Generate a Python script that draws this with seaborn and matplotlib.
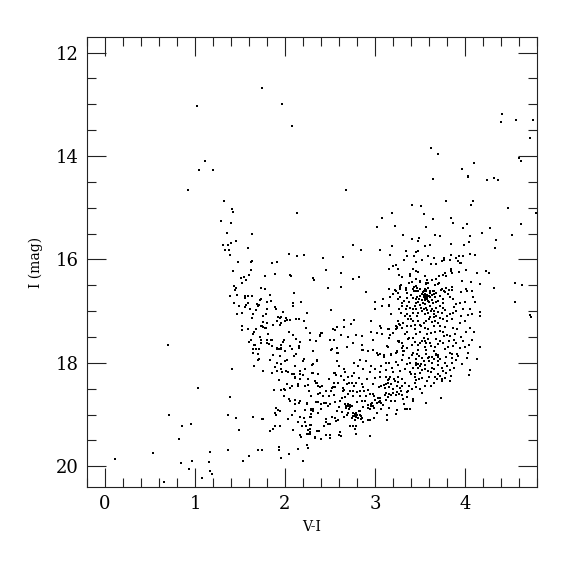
import pandas as pd
import matplotlib
matplotlib.use("Agg")
import matplotlib.pyplot as plt
import seaborn as sns
from matplotlib.ticker import MultipleLocator

# stars as (V-I, I), grouped by region of the diagram
upper_stars = [
    (1.74,12.69),(1.97,13.00),(2.08,13.42),(1.02,13.04),(1.11,14.09),(1.045,14.28),(1.197,14.27),(0.92,14.66),
    (1.327,14.87),(1.415,15.03),(1.419,15.09),(2.134,15.10),(1.286,15.25),(1.40,15.30),(1.352,15.49),(1.634,15.51),
    (1.452,15.65),(1.396,15.68),(1.315,15.72),(1.367,15.73),(1.59,15.77),(1.33,15.81),(1.378,15.81),(1.393,15.91),
    (2.04,15.90),(2.13,15.93),(2.21,15.92),(4.416,13.18),(4.396,13.35),(4.563,13.31),(4.756,13.31),(4.72,13.66),
    (3.62,13.85),(3.70,13.96),(4.60,14.04),(4.62,14.10),(4.10,14.13),(3.97,14.26),(4.03,14.39),(4.035,14.40),
    (3.64,14.45),(4.24,14.47),(4.32,14.43),(4.37,14.47),(2.68,14.65),(3.79,14.88),(4.09,14.88),(4.07,14.95),
    (3.41,14.95),(3.51,14.96),(4.48,15.01),(4.79,15.11),(3.19,15.10),(3.54,15.13),(3.08,15.19),(3.64,15.21),
    (3.84,15.19),(3.87,15.29),(4.02,15.31),(4.62,15.31),(3.02,15.37),(3.22,15.36),(3.57,15.37),(3.98,15.40),
    (4.28,15.39),(4.19,15.49),(4.52,15.53),(3.31,15.52),(3.67,15.53),(3.72,15.55),(4.05,15.54),(3.41,15.60),
    (3.49,15.59),(3.48,15.64),(4.35,15.62),(3.84,15.70),(4.04,15.67),(2.75,15.73),(3.19,15.74),(3.55,15.74),
    (3.61,15.73),(3.99,15.73),(4.33,15.77),(2.84,15.82),(3.05,15.82),(3.34,15.83),(3.48,15.83),(3.46,15.86),
    (3.17,15.91),(3.35,15.93),(3.43,15.93),(3.59,15.94),(3.66,15.98),(3.77,15.97),(3.84,15.91),(3.93,15.94),
    (3.98,15.93),(4.06,15.89),(4.11,15.91),(2.64,15.96),(2.42,15.97),
]
upper_red = [
    (3.32,16.02),(3.45,16.05),(3.52,16.02),(3.74,16.04),(3.77,16.02),(3.83,16.01),(3.90,15.98),(3.92,16.04),
    (3.94,16.07),(3.96,16.07),(3.62,16.08),(3.68,16.09),(3.23,16.10),(3.20,16.13),(3.15,16.18),(3.25,16.19),
    (2.46,16.21),(3.42,16.19),(3.45,16.23),(3.48,16.24),(3.84,16.19),(3.84,16.23),(3.86,16.27),(3.93,16.24),
    (4.01,16.20),(4.23,16.23),(4.27,16.27),(4.13,16.27),(2.62,16.27),(3.39,16.28),(3.39,16.32),(3.27,16.31),
    (3.30,16.34),(3.55,16.33),(3.75,16.31),(3.78,16.27),(3.79,16.32),(3.71,16.33),(2.82,16.34),(2.76,16.38),
    (2.31,16.36),(2.32,16.39),(3.46,16.37),(3.58,16.39),(3.63,16.39),(3.68,16.38),(3.41,16.43),(3.38,16.46),
    (3.50,16.43),(3.57,16.46),(3.59,16.45),(3.67,16.49),(3.71,16.46),(3.97,16.41),(4.07,16.44),(4.17,16.48),
    (4.56,16.46),(4.63,16.49),(2.48,16.56),(2.62,16.53),(3.28,16.52),(3.28,16.56),(3.34,16.56),(3.43,16.53),
    (3.47,16.56),(3.85,16.53),(3.79,16.55),(4.32,16.56),(3.15,16.58),(3.22,16.60),(3.34,16.60),(3.43,16.61),
    (3.57,16.60),(3.54,16.61),(3.61,16.62),(3.64,16.62),(3.66,16.61),(3.73,16.60),(3.77,16.61),(3.82,16.59),
    (3.85,16.59),(3.95,16.63),(4.02,16.61),(4.01,16.57),(4.08,16.61),(2.90,16.63),(4.56,16.83),(4.72,17.07),(4.73,17.12),
]
blue_branch = [
    (1.478,16.05),(1.62,16.05),(1.637,16.03),(1.86,16.06),(1.915,16.05),(1.62,16.20),(1.42,16.23),(1.89,16.29),
    (2.06,16.30),(2.07,16.32),(1.60,16.31),(1.548,16.34),(1.508,16.35),(1.78,16.33),(1.57,16.40),(1.52,16.46),
    (1.43,16.52),(1.46,16.56),(1.445,16.60),(1.73,16.56),(1.78,16.58),(2.10,16.65),(1.47,16.68),(1.385,16.70),
    (1.56,16.70),(1.588,16.70),(1.63,16.70),(1.83,16.69),(1.73,16.76),(1.72,16.78),(1.55,16.75),(1.437,16.84),
    (1.59,16.84),(1.80,16.82),(1.84,16.80),(2.086,16.85),(2.18,16.83),(2.09,16.91),(1.57,16.88),(1.56,16.92),
    (1.485,16.90),(1.69,16.86),(1.715,16.89),(1.70,16.90),(1.615,16.95),(1.89,16.92),(1.90,16.96),(1.805,16.95),
    (1.68,16.98),(1.98,17.01),(1.52,17.04),(1.467,17.06),(1.645,17.05),(1.637,17.13),(2.245,17.04),(1.75,17.10),
    (1.79,17.06),(1.955,17.11),(1.92,17.12),(1.94,17.14),(2.01,17.13),(2.025,17.18),(2.12,17.15),(2.16,17.15),
    (2.215,17.19),(2.05,17.17),(2.00,17.20),(1.91,17.19),(1.95,17.22),(1.94,17.26),(1.87,17.26),(1.755,17.21),
    (1.795,17.23),(1.527,17.28),(1.527,17.36),(1.59,17.34),(1.675,17.35),(1.73,17.29),(1.745,17.29),(1.76,17.31),
    (1.78,17.33),(1.79,17.33),(2.23,17.33),(1.65,17.41),(1.645,17.44),(2.04,17.40),(2.28,17.42),(2.41,17.43),
    (2.09,17.47),(2.39,17.49),(2.12,17.53),(1.72,17.50),(1.81,17.45),(1.627,17.56),(1.605,17.60),(1.73,17.55),
    (1.797,17.55),(1.845,17.55),(1.855,17.55),(1.985,17.55),(1.975,17.59),(2.275,17.55),(2.34,17.57),(2.17,17.59),
    (1.735,17.62),(1.795,17.62),(1.825,17.64),(1.96,17.65),(2.15,17.68),(2.05,17.68),(1.663,17.66),(1.85,17.67),
    (1.91,17.72),(1.95,17.71),
]
faint_blue = [
    (0.696,17.66),(1.415,18.11),(1.03,18.49),(1.393,18.66),(0.71,19.00),(1.367,19.00),(1.452,19.06),(1.645,19.05),
    (1.745,19.09),(1.76,19.08),(0.96,19.18),(0.85,19.22),(1.485,19.29),(0.826,19.47),(1.367,19.68),(1.70,19.68),
    (1.745,19.68),(1.167,19.72),(0.535,19.75),(0.115,19.85),(1.605,19.81),(1.537,19.90),(1.152,19.91),(0.963,19.90),
    (0.84,19.93),(0.93,20.05),(1.17,20.09),(1.185,20.14),(1.075,20.23),(0.655,20.31),(1.93,19.62),(1.93,19.69),
    (1.95,19.84),(2.04,19.77),(2.145,19.66),(2.20,19.90),(2.245,19.59),(2.26,19.64),(2.167,19.39),(2.18,19.44),
    (1.83,19.32),(1.87,19.28),(1.885,19.22),(1.94,19.23),(2.085,19.29),(2.03,19.09),(2.08,19.01),(2.145,19.15),
    (2.167,19.05),(2.21,19.07),(2.185,19.23),(2.23,19.23),(2.225,19.15),(2.255,19.29),(2.255,19.38),(1.885,18.96),
    (1.90,18.88),(1.92,18.91),(1.945,18.93),(1.90,19.01),(2.115,18.94),(2.225,18.92),(1.985,18.64),(2.04,18.69),
    (2.06,18.74),(2.11,18.71),(2.11,18.80),(2.17,18.73),(2.155,18.78),(2.245,18.78),(1.875,18.52),(1.95,18.53),
    (1.985,18.51),(2.00,18.53),(2.02,18.41),(2.055,18.48),(2.08,18.45),(2.145,18.41),(2.145,18.45),(2.22,18.45),
    (2.27,18.54),(2.25,18.42),(1.93,18.34),(2.11,18.30),(2.17,18.31),(2.26,18.32),(1.65,18.06),(1.75,18.15),
    (1.86,18.20),(1.91,18.16),(1.955,18.11),(1.965,18.18),(2.01,18.16),(2.03,18.17),(2.08,18.22),(2.10,18.21),
    (2.115,18.28),(2.165,18.15),(2.17,18.22),(2.195,18.24),(2.225,18.11),(1.83,17.94),(1.87,17.85),(1.885,18.08),
    (1.915,18.01),(1.945,17.87),(1.96,18.02),(2.00,17.97),(2.02,17.94),(2.00,17.78),(2.055,17.68),(2.08,17.74),
    (2.105,17.86),(2.125,17.83),(2.155,17.72),(2.205,17.96),(2.21,17.93),(2.11,18.07),(1.91,17.73),(1.93,17.73),
    (1.96,17.74),(1.645,17.74),(1.645,17.81),(1.68,17.73),(1.70,17.83),(1.715,17.74),(1.66,17.66),(1.715,17.92),
    (1.70,17.94),
]
middle_stars = [
    (2.274,17.55),(2.34,17.58),(2.35,17.95),(2.31,18.03),(2.37,18.22),(2.30,18.20),(2.33,18.35),(2.255,18.43),
    (2.35,18.39),(2.27,18.54),(2.37,18.60),(2.29,18.65),(2.24,18.79),(2.37,18.75),(2.29,18.89),(2.31,18.90),
    (2.225,18.92),(2.285,18.99),(2.285,19.05),(2.225,19.15),(2.28,19.20),(2.23,19.23),(2.37,19.32),(2.275,19.37),
    (2.245,19.38),(2.275,19.28),(2.33,19.45),(2.245,19.59),(2.26,19.65),(2.31,17.77),(2.35,17.96),(2.30,18.04),
    (2.31,18.20),(2.34,18.39),(2.37,18.44),(2.41,18.45),(2.385,18.47),(2.39,18.59),(2.34,18.76),(2.395,18.79),
    (2.43,18.78),(2.45,18.78),(2.50,18.80),(2.48,18.84),(2.29,18.91),(2.31,18.93),(2.37,18.96),(2.405,18.89),
    (2.28,19.04),(2.45,19.09),(2.455,19.14),(2.525,19.05),(2.55,19.07),(2.59,19.10),(2.57,19.12),(2.43,19.22),
    (2.48,19.18),(2.50,19.18),(2.29,19.20),(2.35,19.31),(2.375,19.32),(2.28,19.34),(2.33,19.44),(2.45,19.40),
    (2.50,19.39),(2.405,19.48),(2.50,19.46),(2.61,19.34),(2.62,19.42),(2.60,19.40),(2.72,19.22),(2.75,19.22),
    (2.79,19.22),(2.775,19.28),(2.79,19.38),(2.94,19.41),(2.515,17.75),(2.58,17.80),(2.59,17.81),(2.58,17.96),
    (2.60,18.07),(2.54,18.19),(2.56,18.19),(2.57,18.24),(2.65,18.12),(2.67,18.17),(2.70,18.28),(2.49,18.32),
    (2.54,18.39),(2.59,18.38),(2.52,18.49),(2.535,18.47),(2.51,18.54),(2.56,18.47),(2.49,18.65),(2.54,18.63),
    (2.645,18.48),(2.645,18.55),(2.66,18.53),(2.635,18.68),(2.61,18.73),(2.665,18.66),(2.71,18.39),(2.74,18.38),
    (2.69,18.41),(2.72,18.54),(2.755,18.54),(2.765,18.44),(2.79,18.38),(2.80,18.57),(2.83,18.54),(2.875,18.54),
    (2.87,18.47),(2.67,18.79),(2.70,18.79),(2.72,18.81),(2.675,18.84),(2.705,18.84),(2.71,18.89),(2.58,18.93),
    (2.70,18.96),(2.69,19.01),(2.65,19.05),(2.745,19.07),(2.79,18.96),(2.82,18.94),(2.83,18.94),(2.775,19.02),
    (2.79,19.05),(2.78,19.10),(2.845,19.02),(2.845,19.09),(2.865,19.14),(2.92,19.10),(2.94,19.10),(2.985,19.07),
    (3.13,19.10),(2.805,18.75),(2.855,18.73),(2.885,18.73),(2.865,18.86),(2.92,18.81),(2.92,18.88),(2.95,18.79),
    (2.975,18.84),(2.99,18.88),(2.94,18.89),(3.02,18.97),(3.07,18.89),(3.16,18.88),(3.135,19.01),(3.23,18.98),
    (3.24,18.91),(3.33,18.90),(3.35,18.90),(3.385,18.90),(3.32,18.79),(3.42,18.70),(3.57,18.78),(3.73,18.67),
]
lower_red = [
    (2.94,18.60),(2.975,18.60),(2.99,18.65),(3.03,18.68),(3.05,18.73),(3.045,18.76),(3.09,18.81),(3.11,18.63),
    (3.125,18.58),(3.16,18.60),(3.18,18.63),(3.23,18.63),(3.29,18.54),(3.28,18.49),(3.31,18.70),(3.175,18.73),
    (3.22,18.73),(3.42,18.73),(2.91,18.32),(3.00,18.30),(3.05,18.28),(3.04,18.47),(3.07,18.44),(3.11,18.49),
    (3.125,18.28),(3.145,18.34),(3.16,18.32),(3.10,18.42),(3.16,18.47),(3.20,18.51),(3.21,18.31),(3.25,18.28),
    (3.26,18.37),(3.295,18.32),(3.24,18.44),(3.24,18.56),(3.35,18.57),(3.37,18.55),(3.44,18.38),(3.46,18.34),
    (3.49,18.31),(3.52,18.30),(3.56,18.44),(3.62,18.44),(3.52,18.59),(3.65,18.38),(3.685,18.32),(3.74,18.32),
    (3.74,18.36),(3.83,18.36),(3.33,18.12),(3.42,18.09),(3.385,18.18),(3.44,18.21),(3.50,18.19),(3.555,18.12),
    (3.59,18.15),(3.63,18.09),(3.70,18.21),(3.79,18.19),(3.83,18.13),(3.84,18.26),(2.77,18.00),(2.81,18.07),
    (2.83,17.94),(2.905,17.96),(2.96,18.06),(2.94,18.17),(2.87,18.12),(2.77,18.19),(3.07,18.06),(3.125,18.00),
    (3.16,18.01),(3.23,17.98),(3.19,18.09),(3.10,17.89),(3.03,17.85),(3.02,17.81),(3.05,17.83),(3.10,17.85),
    (3.18,17.84),(3.23,17.80),(3.24,17.78),(3.31,17.85),(3.32,17.77),(3.35,18.03),(3.385,18.01),(3.45,18.01),
    (3.475,18.03),(3.51,18.03),(3.54,17.96),(3.60,17.96),(3.63,18.01),(3.675,17.83),(3.70,17.85),(3.72,17.93),
    (3.775,18.01),(3.85,18.01),(3.925,17.87),(3.97,18.03),(4.02,17.91),(4.06,18.13),(4.045,18.23),(4.13,17.93),
    (3.83,17.80),(3.79,17.89),(3.42,17.80),(3.49,17.87),(3.57,17.83),(3.63,17.89),(2.87,17.76),(2.92,17.78),(2.975,17.76),
]
lower_fill = [
    (2.76,18.97),(2.78,18.99),(2.80,19.00),(2.76,19.03),(2.81,19.07),(2.83,19.00),(2.86,19.06),(2.72,18.85),
    (2.74,18.83),(2.68,18.87),(2.95,18.83),(2.97,18.78),(3.00,18.72),(3.02,18.78),(3.06,18.67),(3.07,18.78),
    (3.12,18.72),(3.14,18.66),(3.20,18.58),(3.27,18.60),(3.30,18.62),(3.36,18.66),(3.12,18.40),(3.14,18.38),
    (3.17,18.28),(3.18,18.40),(3.22,18.36),(3.30,18.44),(3.33,18.38),(3.38,18.44),(3.41,18.50),(3.46,18.46),
    (3.50,18.50),(3.58,18.36),(3.60,18.28),(3.67,18.27),(3.72,18.26),(3.78,18.30),(3.44,18.28),(3.40,18.22),
    (3.48,18.10),(3.46,18.05),(3.50,18.07),(3.52,18.13),(3.55,18.05),(3.62,18.18),(3.66,18.12),(3.70,18.05),
    (3.74,18.10),(3.76,18.15),(3.80,18.06),(3.88,18.10),(3.90,17.95),(3.86,17.90),(3.70,17.96),(3.66,17.92),
    (3.60,17.88),(3.52,17.90),(3.45,17.92),(3.38,17.90),(3.30,17.95),(3.26,18.05),(3.28,18.15),(3.20,18.18),
    (3.12,18.14),(3.05,18.18),(3.00,18.12),(2.98,18.40),(2.92,18.52),(2.85,18.40),(2.82,18.30),(2.74,18.25),
    (2.62,18.25),(2.66,18.33),(2.45,18.55),(2.42,18.65),(2.55,18.75),(2.60,18.85),(2.63,18.95),(2.90,18.65),
    (2.83,18.65),(2.76,18.65),(2.70,18.60),
]
left_of_clump = [
    (2.51,16.97),(3.00,16.83),(3.09,16.77),(3.00,16.95),(3.15,16.90),(3.08,16.90),(3.18,17.06),(2.95,17.19),
    (2.77,17.17),(2.65,17.17),(2.73,17.25),(2.58,17.30),(2.66,17.31),(2.53,17.35),(2.56,17.36),(3.06,17.28),
    (3.07,17.33),(3.24,17.30),(3.27,17.25),(3.16,17.35),(3.23,17.35),(2.28,17.42),(2.40,17.42),(2.385,17.47),
    (2.34,17.57),(2.505,17.55),(2.54,17.56),(2.62,17.47),(2.70,17.50),(2.75,17.62),(2.79,17.46),(2.85,17.48),
    (2.95,17.41),(3.02,17.42),(3.08,17.44),(2.98,17.56),(3.16,17.51),(2.85,17.65),(2.86,17.75),(2.925,17.77),
    (2.98,17.76),(2.69,17.70),(2.52,17.73),(2.58,17.71),(3.14,17.69),(3.25,17.57),(3.27,17.59),
]
red_clump = [
    (3.29,16.50),(3.23,16.61),(3.26,16.65),(3.20,16.67),(3.28,16.57),(3.34,16.55),(3.38,16.46),(3.41,16.43),
    (3.50,16.42),(3.42,16.57),(3.46,16.51),(3.48,16.61),(3.53,16.63),(3.55,16.57),(3.57,16.61),(3.59,16.56),
    (3.61,16.64),(3.65,16.61),(3.68,16.64),(3.74,16.57),(3.78,16.63),(3.81,16.67),(3.57,16.48),(3.70,16.48),
    (3.55,16.70),(3.58,16.72),(3.61,16.73),(3.63,16.69),(3.54,16.73),(3.52,16.78),(3.56,16.78),(3.59,16.80),
    (3.63,16.78),(3.67,16.73),(3.68,16.82),(3.76,16.77),(3.83,16.73),(3.87,16.77),(3.90,16.86),(3.94,16.84),
    (4.00,16.83),(4.11,16.83),(4.09,16.72),(4.02,16.61),(3.95,16.63),(3.17,16.73),(3.25,16.77),(3.32,16.80),
    (3.38,16.82),(3.42,16.75),(3.46,16.77),(3.48,16.83),(3.50,16.88),(3.44,16.90),(3.39,16.93),(3.34,16.96),
    (3.30,16.91),(3.27,16.96),(3.29,17.03),(3.18,17.06),(3.15,16.88),(3.55,16.86),(3.57,16.93),(3.54,16.96),
    (3.61,16.90),(3.63,16.96),(3.66,17.00),(3.68,16.93),(3.72,16.90),(3.76,16.93),(3.74,17.03),(3.65,17.06),
    (3.59,17.03),(3.52,17.00),(3.48,17.03),(3.42,17.03),(3.39,17.09),(3.33,17.10),(3.37,17.15),(3.61,17.12),
    (3.68,17.09),(3.72,17.14),(3.67,17.19),(3.63,17.21),(3.57,17.19),(3.54,17.22),(3.48,17.19),(3.44,17.27),
    (3.40,17.28),(3.31,17.22),(3.26,17.19),(3.28,17.27),(3.23,17.28),(3.24,17.33),(3.14,17.35),
    (3.52,16.67),(3.54,16.69),(3.56,16.66),(3.58,16.68),(3.50,16.70),(3.47,16.72),(3.60,16.70),(3.56,16.74),
    (3.49,16.76),(3.58,16.76),(3.60,16.82),(3.53,16.84),(3.45,16.85),(3.51,16.93),(3.58,16.98),(3.62,17.00),
    (3.55,17.06),(3.47,17.10),(3.60,17.15),(3.66,17.12),(3.70,17.02),(3.64,16.85),(3.70,16.80),(3.66,16.66),
    (3.72,16.70),(3.75,16.85),(3.78,16.98),(3.80,17.10),(3.75,17.15),(3.70,17.22),(3.65,17.28),(3.50,17.27),
    (3.40,17.15),(3.36,17.05),(3.30,16.85),(3.35,16.75),(3.40,16.68),(3.45,16.62),(3.50,16.57),
]
below_clump = [
    (3.83,17.06),(3.87,17.03),(3.80,17.19),(3.72,17.28),(3.87,17.33),(3.91,17.35),(3.80,17.46),(3.77,17.49),
    (3.83,17.48),(3.94,17.22),(4.03,17.08),(4.08,17.06),(4.17,17.01),(4.17,17.09),(4.05,17.33),(4.01,17.41),
    (3.89,17.44),(3.55,17.32),(3.59,17.35),(3.51,17.28),(3.50,17.40),(3.44,17.35),(3.54,17.51),(3.55,17.57),
    (3.59,17.53),(3.57,17.61),(3.61,17.61),(3.52,17.57),(3.68,17.54),(3.72,17.57),(3.67,17.41),(3.72,17.38),
    (3.42,17.51),(3.38,17.51),(3.27,17.57),(3.30,17.61),(3.31,17.67),(3.37,17.54),(3.41,17.66),(3.48,17.66),
    (3.48,17.75),(3.55,17.70),(3.57,17.75),(3.67,17.70),(3.65,17.77),(3.68,17.85),(3.78,17.73),(3.81,17.70),
    (3.87,17.67),(3.85,17.83),(3.94,17.72),(4.04,17.66),(4.03,17.80),(4.17,17.70),(3.24,17.79),(3.31,17.77),
    (3.31,17.85),(3.41,17.85),(3.47,17.83),(3.57,17.83),(3.59,17.90),(3.70,17.88),(3.91,17.83),(3.13,17.68),
    (3.17,17.46),(3.18,17.83),
    (3.30,17.72),(3.36,17.72),(3.44,17.60),(3.50,17.62),(3.62,17.68),(3.70,17.63),(3.76,17.62),(3.82,17.57),
    (3.88,17.55),(3.90,17.62),(3.95,17.50),(3.98,17.58),(4.00,17.70),(4.08,17.55),(4.10,17.40),(4.00,17.20),
    (3.95,17.10),(3.90,17.00),(3.98,16.95),(4.06,16.95),(3.88,16.92),(3.85,17.15),(3.78,17.30),(3.75,17.40),
    (3.62,17.42),(3.58,17.45),(3.46,17.45),(3.36,17.40),(3.33,17.45),(3.30,17.32),(3.20,17.42),(3.35,17.28),
    (3.42,17.20),(3.46,16.95),(3.42,16.95),(3.36,16.90),(3.28,16.72),(3.36,16.65),
]

all_stars = (upper_stars + upper_red + blue_branch + faint_blue + middle_stars
             + lower_red + lower_fill + left_of_clump + red_clump + below_clump)
df = pd.DataFrame(all_stars, columns=["V-I", "I"])

sns.set_theme(style="ticks")
plt.rcParams["font.family"] = ["DejaVu Serif"]
plt.rcParams["text.color"] = "black"
plt.rcParams["axes.labelcolor"] = "black"
plt.rcParams["xtick.labelcolor"] = "black"
plt.rcParams["ytick.labelcolor"] = "black"

fig = plt.figure(figsize=(5.75, 5.75), dpi=100)
ax = fig.add_axes([87 / 575, 88 / 575, 450 / 575, 450 / 575])

sns.scatterplot(data=df, x="V-I", y="I", color="black", s=3.0, marker="s",
                linewidth=0, ax=ax, legend=False)

ax.set_xlim(-0.2, 4.8)
ax.set_ylim(20.4, 11.7)
ax.xaxis.set_major_locator(MultipleLocator(1))
ax.xaxis.set_minor_locator(MultipleLocator(0.2))
ax.yaxis.set_major_locator(MultipleLocator(2))
ax.yaxis.set_minor_locator(MultipleLocator(0.5))
ax.tick_params(which="major", direction="in", length=13.7, width=0.8, top=True, right=True,
               color="#222222", labelsize=13, pad=6)
ax.tick_params(which="minor", direction="in", length=6.8, width=0.8, top=True, right=True,
               color="#222222")
for side in ax.spines.values():
    side.set_linewidth(0.8)
    side.set_color("#222222")

ax.set_xlabel("V-I", fontsize=10, labelpad=5)
ax.set_ylabel("I (mag)", fontsize=10, labelpad=9)

fig.savefig("out.png", dpi=100)
